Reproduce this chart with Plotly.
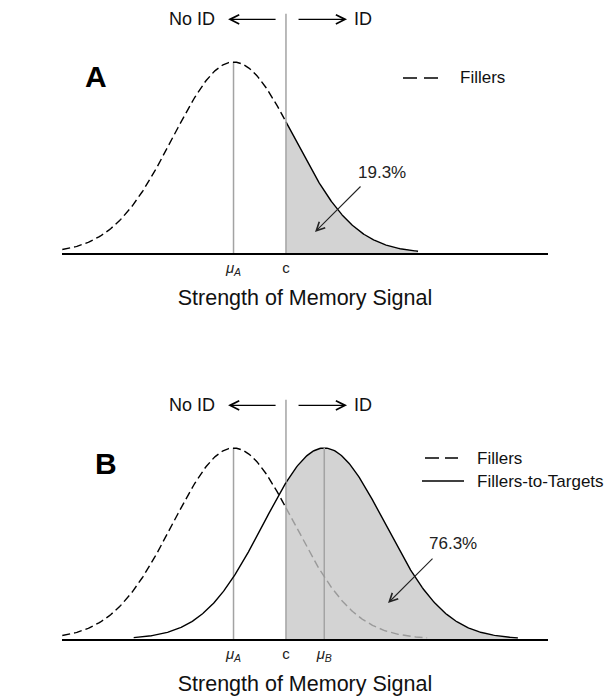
import numpy as np
import plotly.graph_objects as go

# ---------------- data ----------------
panel_letters = ["A", "B"]
filler_mean = 0.0
target_mean = 1.5
spread = 1.0
criterion = 0.867
pct_labels = ["19.3%", "76.3%"]
legend_A = ["Fillers"]
legend_B = ["Fillers", "Fillers-to-Targets"]
ticktext_A = ["<i>μ<sub>A</sub></i>", "c"]
ticktext_B = ["<i>μ<sub>A</sub></i>", "c", "<i>μ<sub>B</sub></i>"]
filler_extent_A = [-2.83, 3.05]
filler_extent_B = [-2.83, 3.2]
target_extent = [-3.15, 3.2]   # relative to target mean
axis_title = "Strength of Memory Signal"

# ---------------- helpers ----------------
W, H = 608, 696
FONT = "Liberation Sans, Arial, sans-serif"
GRAY_LINE = "#a3a3a3"
FILL = "#d3d3d3"
LW = 1.4


def pdf(x, m, s):
    return np.exp(-0.5 * ((x - m) / s) ** 2) / (s * np.sqrt(2 * np.pi))


def grid(a, b, n=200):
    return np.linspace(a, b, n)


fig = go.Figure()

X_RANGE = [-2.835, 5.198]
Y_RANGE = [0, 0.5]
px_dom = [62 / W, 548 / W]
domA = [1 - 253 / H, 1 - 13.6 / H]
domB = [1 - 639 / H, 1 - 399.6 / H]

# ---- Panel A ----
xs = grid(criterion, filler_extent_A[1])
fig.add_trace(go.Scatter(x=xs, y=pdf(xs, filler_mean, spread), fill="tozeroy",
                         fillcolor=FILL, line=dict(color="black", width=LW),
                         mode="lines", xaxis="x", yaxis="y", showlegend=False, hoverinfo="skip"))
fig.add_trace(go.Scatter(x=[filler_mean, filler_mean], y=[0, pdf(filler_mean, filler_mean, spread)],
                         mode="lines", line=dict(color=GRAY_LINE, width=1.5),
                         xaxis="x", yaxis="y", showlegend=False, hoverinfo="skip"))
fig.add_trace(go.Scatter(x=[criterion, criterion], y=[0, Y_RANGE[1]],
                         mode="lines", line=dict(color=GRAY_LINE, width=1.5),
                         xaxis="x", yaxis="y", showlegend=False, hoverinfo="skip"))
xs = grid(filler_extent_A[0], criterion)
fig.add_trace(go.Scatter(x=xs, y=pdf(xs, filler_mean, spread), mode="lines",
                         line=dict(color="black", width=LW, dash="8px,4px"),
                         xaxis="x", yaxis="y", showlegend=False, hoverinfo="skip"))

# ---- Panel B ----
t_lo, t_hi = target_mean + target_extent[0], target_mean + target_extent[1]
xs = grid(criterion, t_hi)
fig.add_trace(go.Scatter(x=xs, y=pdf(xs, target_mean, spread), fill="tozeroy",
                         fillcolor=FILL, line=dict(color="black", width=LW),
                         mode="lines", xaxis="x2", yaxis="y2", showlegend=False, hoverinfo="skip"))
for m in (filler_mean, target_mean):
    fig.add_trace(go.Scatter(x=[m, m], y=[0, pdf(m, m, spread)],
                             mode="lines", line=dict(color=GRAY_LINE, width=1.5),
                             xaxis="x2", yaxis="y2", showlegend=False, hoverinfo="skip"))
fig.add_trace(go.Scatter(x=[criterion, criterion], y=[0, Y_RANGE[1]],
                         mode="lines", line=dict(color=GRAY_LINE, width=1.5),
                         xaxis="x2", yaxis="y2", showlegend=False, hoverinfo="skip"))
xs = grid(t_lo, criterion)
fig.add_trace(go.Scatter(x=xs, y=pdf(xs, target_mean, spread), mode="lines",
                         line=dict(color="black", width=LW),
                         xaxis="x2", yaxis="y2", showlegend=False, hoverinfo="skip"))
xs = grid(filler_extent_B[0], criterion)
fig.add_trace(go.Scatter(x=xs, y=pdf(xs, filler_mean, spread), mode="lines",
                         line=dict(color="black", width=LW, dash="8px,4px"),
                         xaxis="x2", yaxis="y2", showlegend=False, hoverinfo="skip"))
xs = grid(criterion, filler_extent_B[1])
fig.add_trace(go.Scatter(x=xs, y=pdf(xs, filler_mean, spread), mode="lines",
                         line=dict(color="#9a9a9a", width=LW, dash="8px,4px"),
                         xaxis="x2", yaxis="y2", showlegend=False, hoverinfo="skip"))

# ---- axes ----
def xaxis(anchor, tickvals, ticktext):
    return dict(domain=px_dom, range=X_RANGE, anchor=anchor, showline=True,
                linecolor="black", linewidth=2, showgrid=False, zeroline=False,
                ticks="", tickvals=tickvals, ticktext=ticktext,
                tickfont=dict(size=15, color="#222", family=FONT),
                title=dict(text=axis_title, font=dict(size=21.5, color="#111", family=FONT), standoff=13),
                fixedrange=True)


def yaxis(anchor, dom):
    return dict(domain=dom, range=Y_RANGE, anchor=anchor, visible=False, fixedrange=True)


annotations = []
shapes = []
for xa, ya in [("x", "y"), ("x2", "y2")]:
    y_top = 0.488
    annotations += [
        dict(x=-0.27, y=y_top, xref=xa, yref=ya, text="No ID", showarrow=False,
             xanchor="right", yanchor="middle", font=dict(size=18, color="#111", family=FONT)),
        dict(x=1.96, y=y_top, xref=xa, yref=ya, text="ID", showarrow=False,
             xanchor="left", yanchor="middle", font=dict(size=18, color="#111", family=FONT)),
        dict(x=-0.09, y=y_top, ax=0.72, ay=y_top, xref=xa, yref=ya, axref=xa, ayref=ya,
             text="", showarrow=True, arrowhead=5, arrowsize=1.5, arrowwidth=1.2,
             arrowcolor="black", standoff=0),
        dict(x=1.876, y=y_top, ax=1.05, ay=y_top, xref=xa, yref=ya, axref=xa, ayref=ya,
             text="", showarrow=True, arrowhead=5, arrowsize=1.5, arrowwidth=1.2,
             arrowcolor="black", standoff=0),
    ]

# panel letters
annotations += [
    dict(x=96 / W, y=1 - 76 / H, xref="paper", yref="paper", text="<b>" + panel_letters[0] + "</b>",
         showarrow=False, xanchor="center", yanchor="middle",
         font=dict(size=30, color="black", family=FONT)),
    dict(x=106 / W, y=1 - 463 / H, xref="paper", yref="paper", text="<b>" + panel_letters[1] + "</b>",
         showarrow=False, xanchor="center", yanchor="middle",
         font=dict(size=30, color="black", family=FONT)),
]

# percentage labels and arrows
annotations += [
    dict(x=2.455, y=0.169, xref="x", yref="y", text=pct_labels[0], showarrow=False,
         xanchor="center", yanchor="middle", font=dict(size=17, color="#222", family=FONT)),
    dict(x=1.347, y=0.044, ax=2.124, ay=0.142, xref="x", yref="y", axref="x", ayref="y",
         text="", showarrow=True, arrowhead=5, arrowsize=1.5, arrowwidth=1.1,
         arrowcolor="#222", standoff=0),
    dict(x=3.628, y=0.2005, xref="x2", yref="y2", text=pct_labels[1], showarrow=False,
         xanchor="center", yanchor="middle", font=dict(size=17, color="#222", family=FONT)),
    dict(x=2.554, y=0.075, ax=3.314, ay=0.171, xref="x2", yref="y2", axref="x2", ayref="y2",
         text="", showarrow=True, arrowhead=5, arrowsize=1.5, arrowwidth=1.1,
         arrowcolor="#222", standoff=0),
]

# manual legends
def pline(x0, x1, y, dash):
    return dict(type="line", xref="paper", yref="paper", x0=x0 / W, x1=x1 / W,
                y0=1 - y / H, y1=1 - y / H, line=dict(color="black", width=1.4, dash=dash))

shapes += [pline(403, 438, 78, "14px,7px"),
           pline(425, 458, 458, "14px,6px"),
           pline(422, 464, 481, "solid")]
annotations += [
    dict(x=458 / W, y=1 - 78 / H, xref="paper", yref="paper", text=legend_A[0], showarrow=False,
         xanchor="left", yanchor="middle", font=dict(size=17, color="#111", family=FONT)),
    dict(x=475 / W, y=1 - 458 / H, xref="paper", yref="paper", text=legend_B[0], showarrow=False,
         xanchor="left", yanchor="middle", font=dict(size=17, color="#111", family=FONT)),
    dict(x=475 / W, y=1 - 481 / H, xref="paper", yref="paper", text=legend_B[1], showarrow=False,
         xanchor="left", yanchor="middle", font=dict(size=17, color="#111", family=FONT)),
]

fig.update_layout(
    width=W, height=H,
    margin=dict(l=0, r=0, t=0, b=0),
    paper_bgcolor="white", plot_bgcolor="rgba(0,0,0,0)",
    font=dict(family=FONT),
    xaxis=xaxis("y", [filler_mean, criterion], ticktext_A),
    yaxis=yaxis("x", domA),
    xaxis2=xaxis("y2", [filler_mean, criterion, target_mean], ticktext_B),
    yaxis2=yaxis("x2", domB),
    annotations=annotations,
    shapes=shapes,
    showlegend=False,
)

fig.write_html("out.html")
